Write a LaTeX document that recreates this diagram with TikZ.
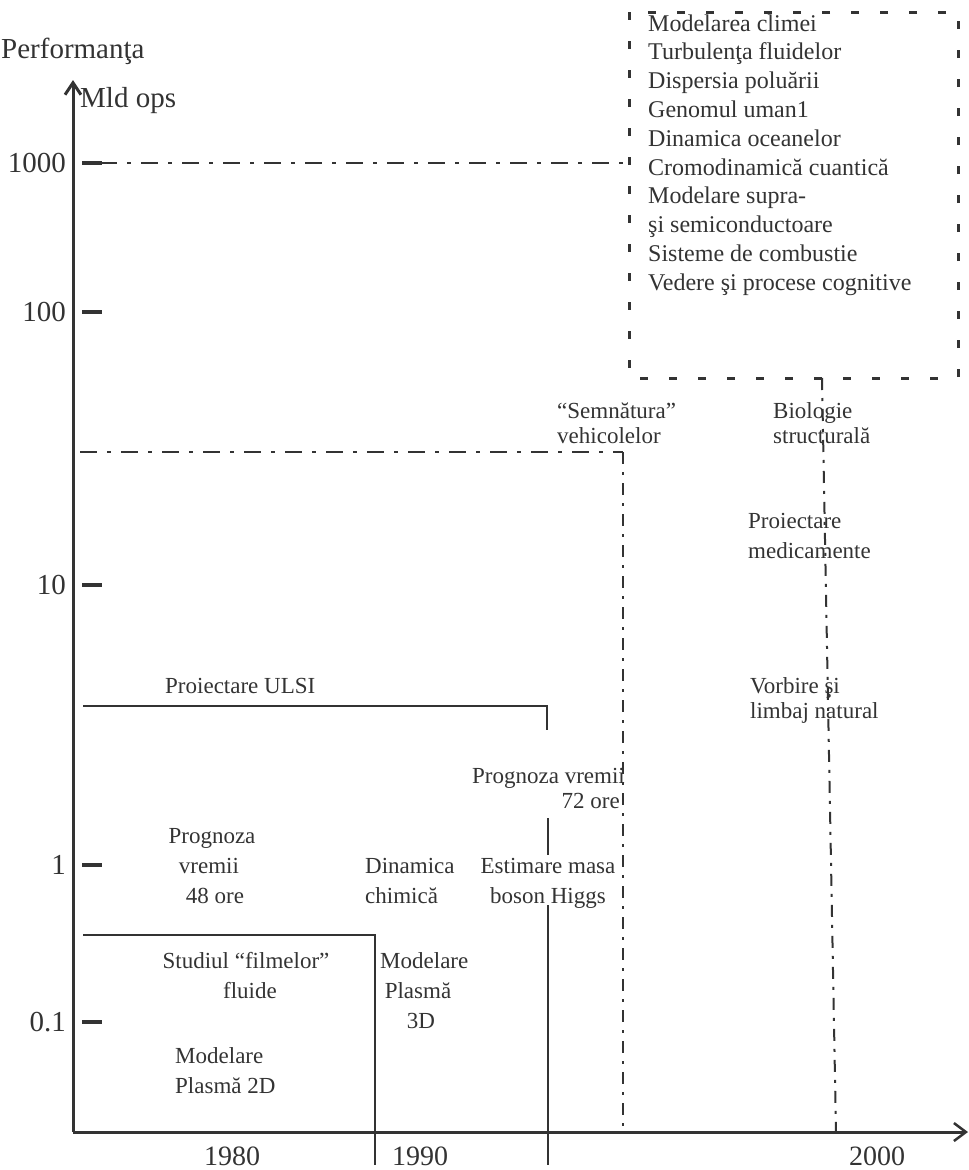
\documentclass[tikz,border=0pt]{standalone}
\usepackage{fontspec}
\setmainfont{Liberation Serif}
\usetikzlibrary{arrows.meta}
\definecolor{ink}{gray}{0.2}
\begin{document}
\begin{tikzpicture}[x=1pt,y=-1pt,
  txt/.style={inner sep=0pt, text=ink, font=\fontsize{23}{27}\selectfont},
  lst/.style={inner sep=0pt, text=ink, anchor=base west, font=\fontsize{24}{28}\selectfont},
  axl/.style={inner sep=0pt, text=ink, font=\fontsize{29}{33}\selectfont},
  yrs/.style={inner sep=0pt, text=ink, anchor=base, font=\fontsize{28}{32}\selectfont},
  axisline/.style={draw=ink, line width=3pt},
  tk/.style={draw=ink, line width=4pt},
  sl/.style={draw=ink, line width=2pt},
  dd/.style={draw=ink, line width=2.5pt, dash pattern=on 17pt off 10pt on 4pt off 10pt},
  vdd/.style={draw=ink, line width=2pt, dash pattern=on 12pt off 8pt on 3pt off 8pt},
  boxd/.style={draw=ink, line width=3pt, dash pattern=on 8pt off 21pt}
]
\useasboundingbox (0,0) rectangle (969,1170);

% axes
\coordinate (O) at (73,1132);
\coordinate (Ytop) at (73,80);
\coordinate (Xend) at (968,1132);
\draw[axisline, -{Straight Barb[length=12pt,width=16pt,line width=3pt]}] (O) -- (Ytop);
\draw[axisline, -{Straight Barb[length=12pt,width=18pt,line width=2.5pt]}] (O) -- (Xend);

\node[axl, anchor=base west] (perf) at (1,58) {Performanţa};
\node[axl, anchor=base west] (mld) at (80,107) {Mld ops};

% ticks and labels
\foreach \yy/\lab/\nm in {163/1000/t1000, 312/100/t100, 585/10/t10, 865/1/t1, 1022/0.1/t01}{
  \coordinate (\nm a) at (82,\yy);
  \coordinate (\nm b) at (102,\yy);
  \draw[tk] (\nm a) -- (\nm b);
  \node[axl, anchor=east] (\nm l) at (66,\yy) {\lab};
}

% dashed box with list
\coordinate (B1) at (629,12);
\coordinate (B2) at (958,378);
\draw[boxd] (B1) rectangle (B2);
\foreach \i/\t in {0/Modelarea climei, 1/Turbulenţa fluidelor, 2/Dispersia poluării,
  3/Genomul uman1, 4/Dinamica oceanelor, 5/Cromodinamică cuantică, 6/Modelare supra-,
  7/şi semiconductoare, 8/Sisteme de combustie, 9/Vedere şi procese cognitive}{
  \node[lst] (L\i) at (648,31+28.8*\i) {\t};
}

% dash-dot lines
\coordinate (D1a) at (100,163);
\coordinate (D1b) at (629,163);
\draw[dd] (D1a) -- (D1b);
\coordinate (D2a) at (80,452);
\coordinate (D2b) at (623,452);
\coordinate (D2c) at (623,1132);
\draw[dd] (D2a) -- (D2b);
\draw[vdd] (D2b) -- (D2c);
\coordinate (V3a) at (822,378);
\coordinate (V3b) at (836,1132);

% texts
\node[txt, anchor=base west] (semn) at (557,418) {“Semnătura”};
\node[txt, anchor=base west] (vehi) at (557,443) {vehicolelor};
\node[txt, anchor=base west] (bio) at (773,418) {Biologie};
\node[txt, anchor=base west] (stru) at (773,443) {structurală};
\node[txt, anchor=base west] (proi) at (748,528) {Proiectare};
\node[txt, anchor=base west] (medi) at (748,558) {medicamente};
\node[txt, anchor=base west] (vorb) at (750,693) {Vorbire şi};
\node[txt, anchor=base west] (limb) at (750,718) {limbaj natural};
\node[txt, anchor=base west] (ulsi) at (165,693) {Proiectare ULSI};
\node[txt, anchor=base east] (pv72) at (625,783) {Prognoza vremii};
\node[txt, anchor=base east] (o72) at (620,808) {72 ore};
\node[txt, anchor=base] (pv48a) at (212,843) {Prognoza};
\node[txt, anchor=base] (pv48b) at (209,873) {vremii};
\node[txt, anchor=base] (pv48c) at (215,903) {48 ore};
\node[txt, anchor=base west] (dina) at (365,873) {Dinamica};
\node[txt, anchor=base west] (chim) at (365,903) {chimică};
\node[txt, anchor=base] (esti) at (548,873) {Estimare masa};
\node[txt, anchor=base] (boso) at (548,903) {boson Higgs};
\node[txt, anchor=base] (stud) at (246,968) {Studiul “filmelor”};
\node[txt, anchor=base] (flui) at (250,998) {fluide};
\node[txt, anchor=base west] (m3a) at (380,968) {Modelare};
\node[txt, anchor=base] (m3b) at (418,998) {Plasmă};
\node[txt, anchor=base] (m3c) at (421,1028) {3D};
\node[txt, anchor=base west] (m2a) at (175,1063) {Modelare};
\node[txt, anchor=base west] (m2b) at (175,1093) {Plasmă 2D};

\node[yrs] (y80) at (232,1165) {1980};
\node[yrs] (y90) at (420,1165) {1990};
\node[yrs] (y00) at (877,1165) {2000};

\draw[vdd] (V3a) -- (V3b);

% solid lines
\coordinate (U1) at (83,706);
\coordinate (U2) at (547,706);
\coordinate (U3) at (547,730);
\draw[sl] (U1) -- (U2) -- (U3);
\coordinate (S1) at (548,818);
\coordinate (S2) at (548,855);
\draw[sl] (S1) -- (S2);
\coordinate (S3) at (548,905);
\coordinate (S4) at (548,1165);
\draw[sl] (S3) -- (S4);
\coordinate (F1) at (83,935);
\coordinate (F2) at (375,935);
\coordinate (F3) at (375,1165);
\draw[sl] (F1) -- (F2) -- (F3);
\end{tikzpicture}
\end{document}
